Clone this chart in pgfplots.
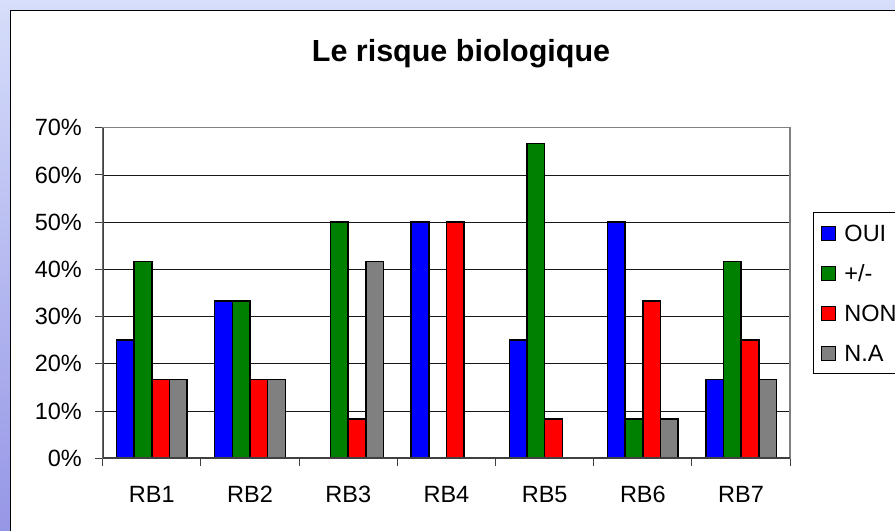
\documentclass[border=0pt]{standalone}
\usepackage{pgfplots}
\pgfplotsset{compat=1.18}
\usepackage{fontspec}
\setmainfont{Liberation Sans}
\definecolor{bgtop}{RGB}{214,222,250}
\definecolor{bgbot}{RGB}{150,150,230}
\definecolor{cOUI}{RGB}{0,0,255}
\definecolor{cPM}{RGB}{0,128,0}
\definecolor{cNON}{RGB}{255,0,0}
\definecolor{cNA}{RGB}{128,128,128}
\begin{document}
\begin{tikzpicture}
\useasboundingbox (0bp,0bp) rectangle (895bp,531bp);
\clip (0bp,0bp) rectangle (895bp,531bp);
\shade[top color=bgtop, bottom color=bgbot] (0bp,0bp) rectangle (895bp,531bp);
\draw[black, line width=1.5bp, fill=white] (10.5bp,-20bp) rectangle (920bp,520.5bp);
\node[anchor=base, font=\bfseries\fontsize{30.5bp}{36bp}\selectfont, inner sep=0pt] at (461bp,469.3bp) {Le risque biologique};
\begin{axis}[
  at={(102.7bp,72.7bp)}, anchor=south west,
  scale only axis, width=687.5bp, height=330.6bp,
  xmin=-0.5, xmax=6.5, ymin=0, ymax=70,
  ybar=0pt, bar width=17.65bp,
  axis line style={draw=gray, line width=1.5bp},
  xtick pos=lower, ytick pos=left,
  xtick={-0.5,0.5,...,6.5},
  x tick label as interval,
  xticklabels={RB1,RB2,RB3,RB4,RB5,RB6,RB7},
  ytick={0,10,...,70},
  yticklabel={\pgfmathprintnumber{\tick}\%},
  /pgf/number format/assume math mode=true,
  tick align=outside,
  major tick length=7.7bp,
  tick style={draw=black!75, line width=1bp},
  ymajorgrids,
  grid style={draw=black!90, line width=0.8bp},
  ticklabel style={font=\fontsize{23.5bp}{28bp}\selectfont, inner sep=0pt},
  xticklabel style={anchor=north, text height=17bp, text depth=0pt, yshift=-19.5bp},
  yticklabel style={anchor=east, xshift=-13bp},
  every axis plot/.append style={draw=black, line width=1.5bp},
  legend style={at={(1.0327,0.7441)}, anchor=north west,
    draw=black, line width=1bp, fill=white,
    inner xsep=8bp, inner ysep=12bp,
    font=\fontsize{23.5bp}{28bp}\selectfont,
    row sep=23bp,
    nodes={inner sep=0pt, text height=17bp, text depth=0pt},
    /tikz/every odd column/.append style={column sep=8bp},
    cells={anchor=west}},
  legend image code/.code={\draw[#1, line width=1.3bp] (0bp,-7bp) rectangle (14bp,7bp);},
]
\addplot[fill=cOUI] coordinates {(0,25) (1,33.33) (2,0) (3,50) (4,25) (5,50) (6,16.67)};
\addplot[fill=cPM] coordinates {(0,41.67) (1,33.33) (2,50) (3,0) (4,66.67) (5,8.33) (6,41.67)};
\addplot[fill=cNON] coordinates {(0,16.67) (1,16.67) (2,8.33) (3,50) (4,8.33) (5,33.33) (6,25)};
\addplot[fill=cNA] coordinates {(0,16.67) (1,16.67) (2,41.67) (3,0) (4,0) (5,8.33) (6,16.67)};
\legend{OUI,+/-,NON,N.A}
\draw[draw=black!75, line width=1.8bp] (rel axis cs:0,1) -- (rel axis cs:0,0) -- (rel axis cs:1,0);
\end{axis}
\end{tikzpicture}
\end{document}
